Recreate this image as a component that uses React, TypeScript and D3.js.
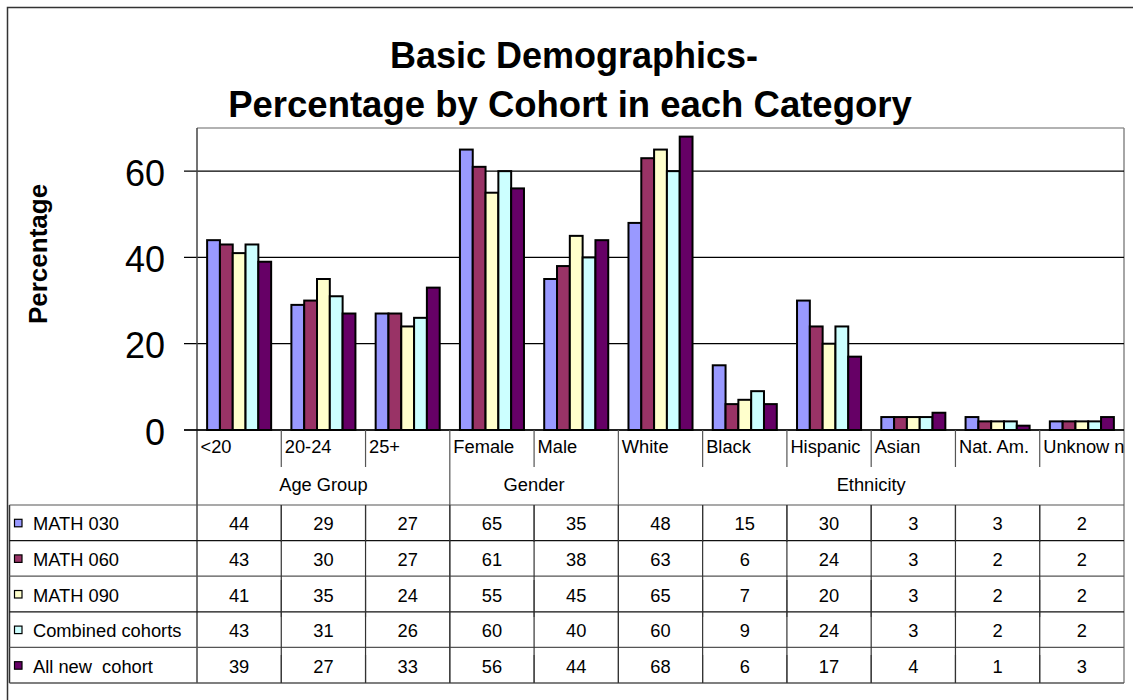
import React from "react";
import * as d3 from "d3";

const categories = ["<20", "20-24", "25+", "Female", "Male", "White", "Black", "Hispanic", "Asian", "Nat. Am.", "Unknow n"];
const groupNames = ["Age Group", "Gender", "Ethnicity"];
const groupSizes = [3, 2, 6];
const seriesNames = ["MATH 030", "MATH 060", "MATH 090", "Combined cohorts", "All new  cohort"];
const math030 = [44, 29, 27, 65, 35, 48, 15, 30, 3, 3, 2];
const math060 = [43, 30, 27, 61, 38, 63, 6, 24, 3, 2, 2];
const math090 = [41, 35, 24, 55, 45, 65, 7, 20, 3, 2, 2];
const combined = [43, 31, 26, 60, 40, 60, 9, 24, 3, 2, 2];
const allNew = [39, 27, 33, 56, 44, 68, 6, 17, 4, 1, 3];
const seriesValues = [math030, math060, math090, combined, allNew];
const colors = ["#9999FF", "#993366", "#FFFFCC", "#CCFFFF", "#660066"];
const yTicks = [0, 20, 40, 60];
const titleLines = ["Basic Demographics-", "Percentage by Cohort in each Category"];
const yTitle = "Percentage";

export default function App() {
  const W = 1133, H = 700;
  const plotL = 197, plotR = 1124, plotT = 128, plotB = 430;
  const x = d3.scaleBand<string>().domain(categories).range([plotL, plotR]).paddingInner(0).paddingOuter(0);
  const xs = d3.scaleBand<string>().domain(seriesNames).range([0, x.bandwidth()]).paddingInner(0).paddingOuter(0.79);
  const y = d3.scaleLinear().domain([0, 70]).range([plotB, plotT]);
  const font = "'Liberation Sans', Arial, sans-serif";
  const fs = 18.3;
  const tableTop = 505, rowH = 35.6, tableLeft = 9.5;
  const tableBottom = tableTop + rowH * seriesNames.length;
  const catLabelY = 453, groupLabelY = 491;

  const groupBounds: { name: string; x0: number; x1: number }[] = [];
  let idx = 0;
  groupNames.forEach((g, i) => {
    const x0 = x(categories[idx])!;
    const last = categories[idx + groupSizes[i] - 1];
    const x1 = x(last)! + x.bandwidth();
    groupBounds.push({ name: g, x0, x1 });
    idx += groupSizes[i];
  });

  return (
    <svg width={W} height={H} style={{ position: "fixed", left: 0, top: 0, background: "#fff" }} fontFamily={font}>
      <defs>
        <clipPath id="plotclip">
          <rect x={plotL} y={0} width={plotR - plotL} height={H} />
        </clipPath>
      </defs>
      <rect x={0} y={0} width={W} height={H} fill="#fff" />
      <rect x={7.5} y={7.5} width={1150} height={720} fill="none" stroke="#333" strokeWidth={1.5} />

      <text x={574} y={68} textAnchor="middle" fontSize={36} fontWeight="bold">{titleLines[0]}</text>
      <text x={570} y={117} textAnchor="middle" fontSize={36.5} fontWeight="bold">{titleLines[1]}</text>

      <text transform={`translate(47,254) rotate(-90)`} textAnchor="middle" fontSize={26} fontWeight="bold">{yTitle}</text>

      <line x1={plotL} x2={plotR} y1={plotT} y2={plotT} stroke="#999" strokeWidth={1.5} />
      <line x1={plotR} x2={plotR} y1={plotT} y2={tableBottom} stroke="#888" strokeWidth={1.5} />

      {yTicks.map((t) => (
        <g key={t}>
          <line x1={184} x2={plotR} y1={y(t)} y2={y(t)} stroke="#000" strokeWidth={1.2} />
          <text x={165} y={y(t) + 2} textAnchor="end" dominantBaseline="central" fontSize={36}>{t}</text>
        </g>
      ))}

      {categories.map((c, ci) => (
        <g key={c}>
          {seriesNames.map((s, si) => {
            const v = seriesValues[si][ci];
            const bx = x(c)! + xs(s)!;
            return (
              <rect key={s} x={bx} y={y(v)} width={xs.bandwidth()} height={plotB - y(v)}
                fill={colors[si]} stroke="#000" strokeWidth={2} />
            );
          })}
        </g>
      ))}

      <line x1={plotL} x2={plotL} y1={plotT} y2={tableBottom} stroke="#444" strokeWidth={1.5} />
      <line x1={184} x2={plotR} y1={plotB} y2={plotB} stroke="#000" strokeWidth={1.5} />

      <g clipPath="url(#plotclip)">
        {categories.map((c) => (
          <text key={c} x={x(c)! + 3.5} y={catLabelY} fontSize={fs} style={{ whiteSpace: "pre" }}>{c}</text>
        ))}
      </g>
      {categories.map((c, i) => i > 0 ? (
        <line key={c} x1={x(c)!} x2={x(c)!} y1={plotB} y2={tableBottom} stroke="#555" strokeWidth={1.2}
          strokeDasharray={groupBounds.some((g) => Math.abs(g.x0 - x(c)!) < 0.5) ? undefined : `${467 - plotB} ${tableTop - 467}`} />
      ) : null)}
      {groupBounds.map((g) => (
        <text key={g.name} x={(g.x0 + g.x1) / 2} y={groupLabelY} textAnchor="middle" fontSize={fs}>{g.name}</text>
      ))}

      <line x1={tableLeft} x2={tableLeft} y1={tableTop} y2={tableBottom} stroke="#333" strokeWidth={1.5} />
      {seriesNames.map((s, si) => {
        const ry = tableTop + si * rowH;
        const cy = ry + rowH / 2;
        return (
          <g key={s}>
            <line x1={tableLeft} x2={plotR} y1={ry} y2={ry} stroke={si % 2 === 0 ? "#555" : "#111"} strokeWidth={1.2} />
            <rect x={14.5} y={cy - 3.5} width={7.5} height={7.5} fill={colors[si]} stroke="#000" strokeWidth={1.2} />
            <text x={33} y={cy + 1} dominantBaseline="central" fontSize={fs} style={{ whiteSpace: "pre" }}>{s}</text>
            {categories.map((c, ci) => (
              <text key={c} x={x(c)! + x.bandwidth() / 2} y={cy + 1} textAnchor="middle" dominantBaseline="central" fontSize={fs}>
                {seriesValues[si][ci]}
              </text>
            ))}
          </g>
        );
      })}
      <line x1={tableLeft} x2={plotR} y1={tableBottom} y2={tableBottom} stroke="#555" strokeWidth={1.5} />
      {categories.map((c, i) => i > 0 ? (
        <line key={"t" + c} x1={x(c)!} x2={x(c)!} y1={tableTop} y2={tableBottom} stroke="#333" strokeWidth={1.2} />
      ) : null)}
    </svg>
  );
}
